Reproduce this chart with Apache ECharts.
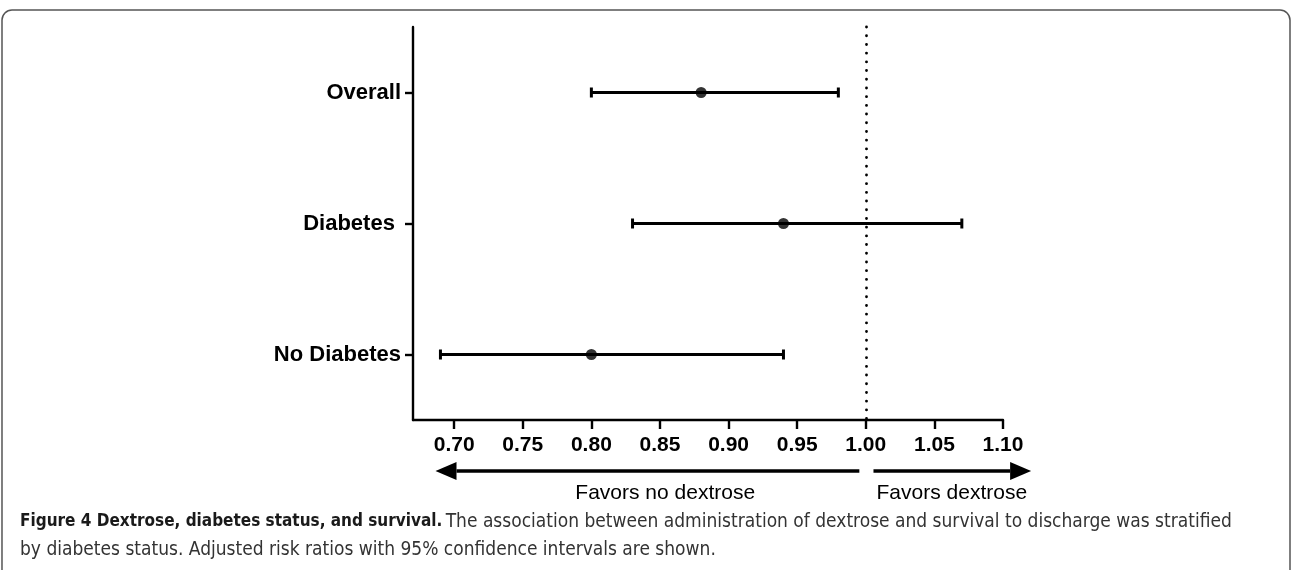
<!DOCTYPE html>
<html>
<head>
<meta charset="utf-8">
<script src="https://cdn.jsdelivr.net/npm/echarts@6/dist/echarts.min.js"></script>
<style>
    html, body { margin: 0; padding: 0; background: #fff; }
    #chart { width: 1293px; height: 570px; }
</style>
</head>
<body>
<div id="chart"></div>
<script>
    // 分组与风险比（95% CI）
    const groups = ['Overall', 'Diabetes ', 'No Diabetes'];
    const ratio = [0.88, 0.94, 0.80];
    const lower = [0.80, 0.83, 0.69];
    const upper = [0.98, 1.07, 0.94];
    const xTicks = [0.70, 0.75, 0.80, 0.85, 0.90, 0.95, 1.00, 1.05, 1.10];
    const refLine = 1.00;

    const myChart = echarts.init(document.getElementById('chart'));

    myChart.setOption({
        animation: false,
        grid: { left: 413, right: 290, top: 27, bottom: 150 },
        xAxis: {
            type: 'value',
            min: 0.67,
            max: 1.10,
            splitLine: { show: false },
            axisLine: { show: true, lineStyle: { color: '#000', width: 2.4 } },
            axisTick: { show: true, customValues: xTicks, length: 9, lineStyle: { color: '#000', width: 2.4 } },
            axisLabel: {
                customValues: xTicks,
                margin: 15,
                color: '#000',
                fontFamily: 'Liberation Sans, Arial, sans-serif',
                fontWeight: 'bold',
                fontSize: 21,
                formatter: function (v) { return v.toFixed(2); }
            }
        },
        yAxis: {
            type: 'category',
            inverse: true,
            data: groups,
            axisLine: { show: true, lineStyle: { color: '#000', width: 2.4 } },
            axisTick: { show: true, alignWithLabel: true, length: 8, lineStyle: { color: '#000', width: 2.4 } },
            axisLabel: {
                margin: 12,
                color: '#000',
                fontFamily: 'Liberation Sans, Arial, sans-serif',
                fontWeight: 'bold',
                fontSize: 22
            }
        },
        series: [
            {
                // 置信区间
                type: 'custom',
                data: groups.map((g, i) => [lower[i], upper[i], i]),
                encode: { x: [0, 1], y: 2 },
                renderItem: function (params, api) {
                    const y = api.value(2);
                    const p1 = api.coord([api.value(0), y]);
                    const p2 = api.coord([api.value(1), y]);
                    const h = 5;
                    const st = { stroke: '#000', lineWidth: 3 };
                    return {
                        type: 'group',
                        children: [
                            { type: 'line', shape: { x1: p1[0], y1: p1[1], x2: p2[0], y2: p2[1] }, style: st },
                            { type: 'line', shape: { x1: p1[0], y1: p1[1] - h, x2: p1[0], y2: p1[1] + h }, style: st },
                            { type: 'line', shape: { x1: p2[0], y1: p2[1] - h, x2: p2[0], y2: p2[1] + h }, style: st }
                        ]
                    };
                },
                z: 2
            },
            {
                type: 'scatter',
                data: groups.map((g, i) => [ratio[i], i]),
                symbol: 'circle',
                symbolSize: 11,
                itemStyle: { color: '#000' },
                z: 3,
                markLine: {
                    silent: true,
                    symbol: 'none',
                    label: { show: false },
                    lineStyle: { color: '#000', width: 2.8, type: [0.1, 8.6], cap: 'round' },
                    data: [{ xAxis: refLine }]
                }
            }
        ]
    });

    // 箭头和说明文字
    const arrowY = 471;
    const leftArrow = [0.9953, 0.6864];
    const rightArrow = [1.0056, 1.1205];
    const labelY = 493;

    function arrow(fromVal, toVal) {
        const x1 = myChart.convertToPixel({ xAxisIndex: 0 }, fromVal);
        const x2 = myChart.convertToPixel({ xAxisIndex: 0 }, toVal);
        const dir = x2 > x1 ? 1 : -1;
        const headLen = 21, headH = 9;
        return [
            { type: 'line', shape: { x1: x1, y1: arrowY, x2: x2 - dir * headLen, y2: arrowY }, style: { stroke: '#000', lineWidth: 3.3 } },
            { type: 'polygon', shape: { points: [[x2, arrowY], [x2 - dir * headLen, arrowY - headH], [x2 - dir * headLen, arrowY + headH]] }, style: { fill: '#000' } }
        ];
    }

    const textFont = { fontFamily: 'Liberation Sans, Arial, sans-serif', fontSize: 21, fill: '#000', align: 'center', verticalAlign: 'middle' };

    myChart.setOption({
        graphic: [
            // 外框
            { type: 'rect', shape: { x: 2, y: 10, width: 1288, height: 600, r: 10 }, style: { fill: 'none', stroke: '#555', lineWidth: 1.5 }, silent: true },
            ...arrow(leftArrow[0], leftArrow[1]),
            ...arrow(rightArrow[0], rightArrow[1]),
            { type: 'text', x: myChart.convertToPixel({ xAxisIndex: 0 }, 0.8538), y: labelY, style: Object.assign({ text: 'Favors no dextrose' }, textFont) },
            { type: 'text', x: myChart.convertToPixel({ xAxisIndex: 0 }, 1.0627), y: labelY, style: Object.assign({ text: 'Favors dextrose' }, textFont) },
            // 图注
            {
                type: 'text', left: 20, top: 508,
                style: {
                    text: '{b|Figure 4 Dextrose, diabetes status, and survival.} {n|The association between administration of dextrose and survival to discharge was stratified}\n{n|by diabetes status. Adjusted risk ratios with 95% confidence intervals are shown.}',
                    lineHeight: 28,
                    rich: {
                        b: { fontFamily: 'Liberation Sans Narrow, DejaVu Sans Condensed, sans-serif', fontWeight: 'bold', fontSize: 17, fill: '#1a1a1a', lineHeight: 28 },
                        n: { fontFamily: 'Liberation Sans Narrow, DejaVu Sans Condensed, sans-serif', fontSize: 19, fill: '#333', lineHeight: 28 }
                    }
                }
            }
        ]
    });
</script>
</body>
</html>
